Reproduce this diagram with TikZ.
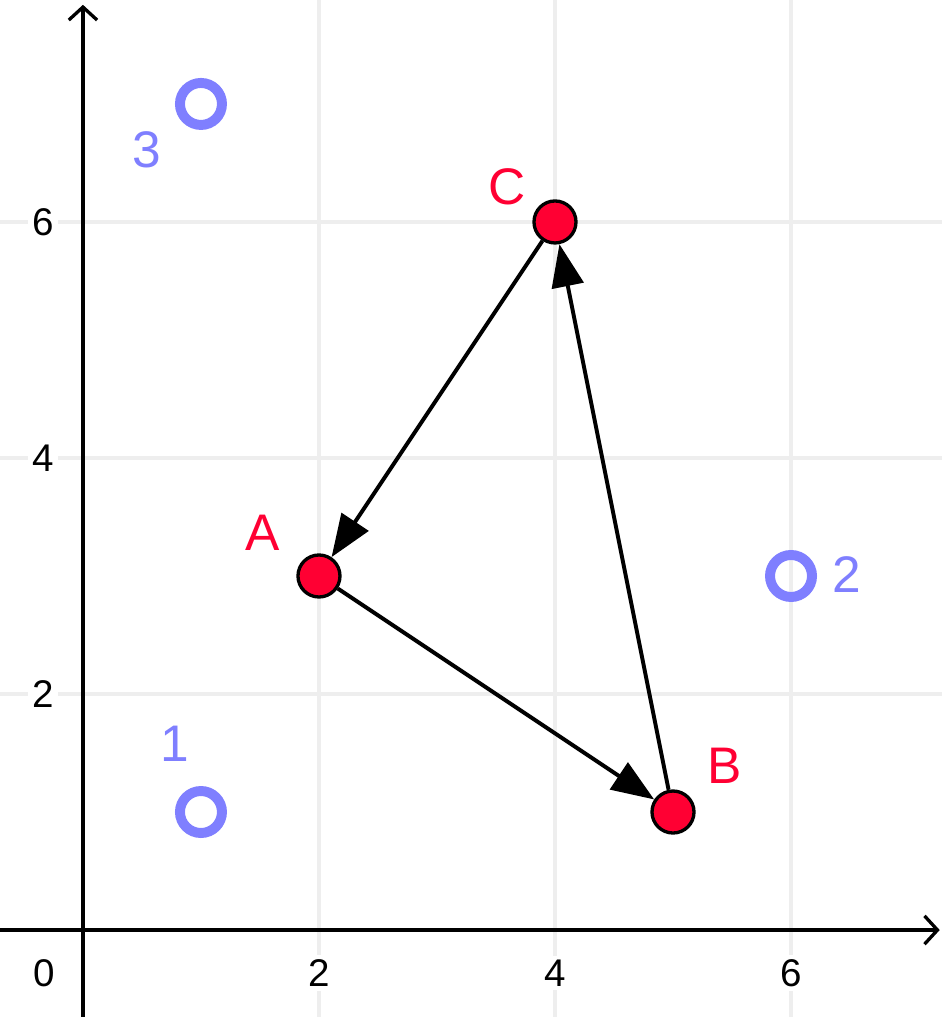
\documentclass[tikz,border=0pt]{standalone}
\usepackage{fontspec}
\setmainfont{Liberation Sans}
\usepackage{tikz}
\usetikzlibrary{arrows.meta, positioning}
\definecolor{pointred}{HTML}{FF0033}
\definecolor{pointblue}{HTML}{7F7FFF}
\definecolor{gridgray}{HTML}{EEEEEE}

\begin{document}
\begin{tikzpicture}[x=1cm, y=1cm,
		vertex/.style={circle, draw=black, fill=pointred, line width=0.8pt, minimum size=0.356cm, inner sep=0pt},
		ring/.style={circle, draw=pointblue, line width=2.4pt, minimum size=0.356cm, inner sep=0pt},
		edge/.style={line width=0.95pt, -{Triangle[length=0.36cm, width=0.27cm]}},
		axisline/.style={line width=0.8pt, -{Straight Barb[length=0.11cm, width=0.24cm]}},
		gridline/.style={draw=gridgray, line width=1pt},
		ticklabel/.style={fill=white, inner sep=1pt, font=\fontsize{9.3}{11}\selectfont},
		ptlabel/.style={text=pointred, font=\fontsize{12.4}{15}\selectfont},
		ringlabel/.style={text=pointblue, font=\fontsize{12.4}{15}\selectfont}]
		\useasboundingbox (-0.703,-0.737) rectangle (7.280,7.881);
		
		% grid
		\foreach \v in {2,4,6} {
			\draw[gridline] (\v,-0.737) -- (\v,7.881);
			\draw[gridline] (-0.703,\v) -- (7.280,\v);
		}
		
		% axes
		\draw[axisline] (-0.703,0) -- (7.26,0);
		\draw[axisline] (0,-0.737) -- (0,7.84);
		\node[ticklabel] (t0) at (-0.33,-0.364) {0};
		\foreach \v in {2,4,6} {
			\node[ticklabel] (tx\v) at (\v,-0.364) {\v};
			\node[ticklabel] (ty\v) at (-0.34,\v) {\v};
		}
		
		% open points
		\node[ring] (p1) at (1,1) {};
		\node[ring] (p2) at (6,3) {};
		\node[ring] (p3) at (1,7) {};
		\node[ringlabel] (l1) at (0.78,1.58) {1};
		\node[ringlabel] (l2) at (6.47,3.01) {2};
		\node[ringlabel] (l3) at (0.54,6.61) {3};
		
		% triangle
		\node[vertex] (A) at (2,3) {};
		\node[vertex] (B) at (5,1) {};
		\node[vertex] (C) at (4,6) {};
		\node[ptlabel] (lA) at (1.52,3.37) {A};
		\node[ptlabel] (lB) at (5.44,1.39) {B};
		\node[ptlabel] (lC) at (3.59,6.30) {C};
		
		\draw[edge] (A) -- (B);
		\draw[edge] (B) -- (C);
		\draw[edge] (C) -- (A);
\end{tikzpicture}
\end{document}
